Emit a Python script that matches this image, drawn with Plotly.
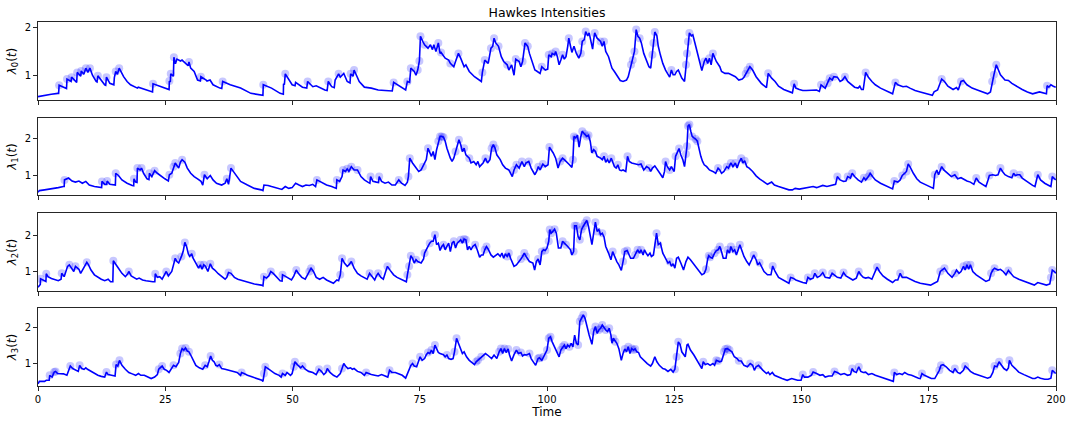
import plotly.graph_objects as go

# (time, intensity, event flag)
p0 = [(0,0.55,0),(1.3,0.58,0),(2.6,0.6,0),(3.9,0.62,0),(4.05,0.62,0),(4.15,0.79,1),(5.34,0.72,0),(5.6,0.72,0),(5.7,0.92,1),(6.35,0.87,0),(6.5,0.87,0),(6.6,0.96,1),(7.5,0.85,0),(7.6,0.85,0),(7.7,1.06,1),(8.4,0.98,0),(8.5,1.09,1),(9.0,1.02,0),(9.4,1.15,1),(9.8,1.06,0),(10.2,1.15,1),(10.7,1.0,0),(11.42,0.87,0),(11.6,0.86,0),(11.76,0.99,1),(12.5,0.88,0),(13.1,0.8,0),(13.3,0.79,0),(13.45,0.96,1),(14.12,0.83,0),(14.9,0.8,0),(15.0,0.95,0),(15.27,1.08,1),(15.6,1.02,0),(15.95,1.15,1),(16.82,0.97,0),(17.5,0.87,0),(18.18,0.8,0),(19.53,0.73,0),(19.7,0.75,0),(20.9,0.7,0),(22.23,0.66,0),(22.5,0.65,0),(22.6,0.82,1),(24.26,0.75,0),(25.6,0.7,0),(25.75,0.7,0),(25.81,0.88,1),(26.0,0.86,0),(26.08,1.03,1),(26.6,0.98,0),(26.7,1.38,1),(27.0,1.24,0),(27.3,1.34,0),(28.0,1.3,0),(28.3,1.32,0),(29.0,1.25,0),(29.5,1.2,0),(29.66,1.28,1),(30.0,1.15,0),(30.68,1.08,0),(31.35,0.9,0),(31.9,0.88,0),(32.0,0.97,1),(33.04,0.9,0),(33.2,0.88,0),(33.8,0.9,0),(34.39,0.8,0),(35.74,0.73,0),(36.1,0.72,0),(36.28,0.87,1),(37.77,0.8,0),(39.8,0.73,0),(41.82,0.62,0),(44.19,0.58,0),(44.26,0.8,1),(45.88,0.73,0),(47.57,0.62,0),(48.2,0.6,0),(48.24,0.82,0),(48.4,0.8,0),(48.58,1.03,1),(49.93,0.8,0),(50.5,0.78,0),(50.61,0.85,0),(51.96,0.75,0),(52.8,0.73,0),(52.97,0.87,1),(53.99,0.76,0),(54.66,0.78,0),(56.35,0.69,0),(56.8,0.68,0),(57.03,0.87,1),(57.7,0.76,0),(58.2,0.74,0),(58.38,0.9,0),(59.06,1.03,1),(59.39,0.96,0),(60.07,1.04,0),(60.75,0.87,0),(61.3,0.84,0),(61.42,1.03,1),(61.9,0.98,0),(62.1,1.11,1),(63.11,0.87,0),(64.12,0.75,0),(65.48,0.73,0),(66.83,0.69,0),(68.18,0.68,0),(69.19,0.68,0),(69.6,0.67,0),(69.87,0.85,1),(71.56,0.73,0),(72.23,0.69,0),(72.57,0.87,1),(73.0,0.85,0),(73.25,1.15,1),(73.92,1.08,0),(74.26,1.0,0),(74.6,1.11,1),(74.93,1.3,1),(75.14,1.82,1),(75.61,1.71,0),(75.95,1.64,1),(76.62,1.57,0),(77.1,1.64,0),(77.5,1.54,0),(77.77,1.64,0),(78.18,1.5,0),(78.65,1.68,1),(78.99,1.46,0),(79.19,1.48,1),(80.0,1.36,0),(80.68,1.32,0),(81.01,1.25,1),(81.69,1.18,0),(82.03,1.29,0),(82.6,1.46,1),(83.04,1.36,0),(83.72,1.18,0),(84.06,1.22,0),(84.73,1.08,0),(85.75,0.97,0),(86.76,0.9,0),(87.1,0.87,0),(87.3,1.06,1),(87.77,1.32,1),(88.45,1.25,0),(88.99,1.57,1),(89.33,1.61,0),(89.6,1.78,1),(89.93,1.68,0),(90.47,1.61,1),(91.02,1.39,0),(91.49,1.29,0),(92.17,1.22,1),(92.5,1.11,0),(93.05,1.22,0),(93.52,1.0,0),(93.86,1.34,1),(94.53,1.29,0),(94.87,1.18,0),(95.2,1.29,1),(95.68,1.68,1),(96.22,1.61,1),(96.55,1.46,0),(97.23,1.25,0),(97.62,1.11,0),(97.96,1.09,0),(98.64,1.04,0),(98.98,1.18,1),(99.66,1.11,0),(100.14,1.13,0),(100.34,1.43,1),(100.81,1.39,0),(101.02,1.46,1),(101.49,1.43,0),(101.7,1.5,1),(102.04,1.39,0),(102.38,1.22,0),(102.72,1.32,0),(103.06,1.43,1),(103.4,1.34,0),(103.73,1.39,0),(104.07,1.61,0),(104.28,1.78,1),(104.62,1.61,0),(104.89,1.48,0),(105.3,1.61,0),(105.77,1.46,0),(106.25,1.36,0),(106.65,1.46,1),(106.93,1.71,1),(107.33,1.75,0),(107.6,1.92,1),(108.01,1.83,0),(108.28,1.89,0),(108.69,1.71,0),(108.96,1.55,0),(109.17,1.75,0),(109.37,1.89,1),(109.85,1.78,0),(110.19,1.75,0),(110.52,1.71,1),(110.86,1.61,0),(111.2,1.71,1),(111.54,1.5,0),(112.09,1.39,0),(112.56,1.22,0),(112.77,1.15,0),(113.24,1.08,0),(113.92,0.97,0),(114.39,0.89,0),(114.94,0.87,0),(115.62,0.9,0),(115.96,0.97,0),(116.3,1.11,0),(116.5,1.22,1),(116.84,1.32,1),(117.18,1.5,1),(117.52,1.96,1),(117.86,1.82,0),(118.2,1.78,1),(118.54,1.68,0),(119.01,1.46,0),(119.56,1.29,0),(120.03,1.18,0),(120.37,1.15,0),(120.5,1.3,0),(120.71,1.43,1),(120.91,1.68,1),(121.18,1.91,1),(121.59,1.83,0),(121.86,1.61,0),(122.27,1.43,0),(122.75,1.25,0),(123.29,1.11,0),(123.77,1.01,0),(124.1,0.96,0),(124.44,1.11,1),(124.78,1.01,0),(125.12,1.01,0),(125.46,1.08,0),(125.8,1.11,0),(126.48,0.94,0),(127.02,0.87,0),(127.3,1.22,1),(127.5,1.46,1),(127.7,1.71,1),(127.97,1.89,1),(128.38,1.83,0),(128.65,1.85,0),(129.06,1.68,0),(129.54,1.46,0),(130.01,1.25,0),(130.42,1.1,0),(130.89,1.29,1),(131.23,1.36,0),(131.57,1.25,0),(131.91,1.36,1),(132.25,1.22,0),(132.59,1.46,1),(133.27,1.29,0),(133.95,1.18,0),(134.29,1.08,0),(134.97,1.04,0),(135.65,1.04,0),(136.33,1.01,0),(137.01,0.97,0),(137.68,0.9,0),(138.36,0.92,0),(138.7,0.96,0),(139.04,1.03,1),(139.38,1.11,1),(139.86,1.18,1),(140.4,1.11,0),(141.08,0.97,0),(142.1,0.83,0),(143.12,0.74,0),(143.46,1.04,1),(144.14,0.94,0),(144.81,0.87,0),(145.49,0.77,0),(146.51,0.7,0),(147.53,0.65,0),(148.21,0.63,0),(148.55,0.82,1),(148.89,0.73,0),(149.57,0.7,0),(150.25,0.68,0),(150.93,0.68,0),(151.6,0.68,0),(152.28,0.68,0),(152.96,0.69,0),(153.51,0.66,0),(153.84,0.8,1),(154.66,0.73,0),(155.13,0.83,1),(155.54,0.94,1),(156.02,0.9,0),(156.36,0.97,1),(157.04,0.96,0),(157.58,0.87,0),(158.05,0.9,0),(158.53,0.97,1),(159.07,0.87,0),(159.75,0.8,0),(160.43,0.75,0),(161.11,0.73,0),(161.45,0.77,0),(161.79,0.7,0),(162.13,0.7,0),(162.6,1.06,1),(163.15,0.96,0),(163.83,0.87,0),(164.5,0.8,0),(165.52,0.73,0),(166.54,0.68,0),(167.9,0.61,0),(168.44,0.85,1),(168.92,0.8,0),(169.94,0.76,0),(170.62,0.77,0),(171.3,0.73,0),(172.31,0.68,0),(173.33,0.65,0),(174.69,0.61,0),(175.71,0.58,0),(176.05,0.65,0),(176.73,0.69,0),(177.54,0.92,1),(178.09,0.87,0),(178.76,0.77,0),(179.78,0.7,0),(180.46,0.74,0),(180.8,0.69,0),(181.34,0.87,1),(181.82,0.89,0),(182.5,0.8,0),(183.52,0.73,0),(184.54,0.69,0),(185.55,0.65,0),(186.57,0.61,0),(187.12,0.65,0),(187.46,0.87,1),(187.8,1.01,1),(188.27,1.22,1),(188.61,1.14,0),(189.08,1.01,0),(189.97,0.9,0),(190.65,0.89,0),(191.33,0.83,0),(192.34,0.76,0),(193.36,0.7,0),(194.38,0.65,0),(195.4,0.61,0),(196.08,0.63,0),(196.76,0.65,0),(198.12,0.61,0),(198.25,0.78,1),(198.59,0.75,0),(199.0,0.8,0),(199.47,0.77,0),(199.95,0.75,0)]

p1 = [(0,0.555,0),(0.27,0.6,0),(1.28,0.62,0),(2.64,0.645,0),(3.99,0.68,0),(5.0,0.71,0),(5.15,0.71,0),(5.2,0.89,1),(6.01,0.94,0),(6.69,0.86,0),(7.36,0.83,0),(8.04,0.86,0),(8.72,0.8,0),(9.39,0.85,0),(10.07,0.75,0),(11.08,0.71,0),(12.1,0.68,0),(12.5,0.68,0),(12.57,0.85,1),(13.11,0.77,0),(13.5,0.77,0),(13.58,0.86,1),(14.12,0.77,0),(14.8,0.75,0),(15.2,0.75,0),(15.27,1.07,1),(15.81,1.01,0),(16.49,0.89,0),(17.5,0.8,0),(18.51,0.74,0),(18.8,0.73,0),(18.85,0.92,1),(19.19,0.83,0),(19.45,0.82,0),(19.53,1.21,1),(20.07,1.16,0),(20.34,1.21,1),(20.74,1.07,0),(21.42,0.92,0),(21.8,0.9,0),(21.89,1.07,1),(22.37,0.98,0),(22.91,1.14,1),(23.45,1.07,0),(24.26,0.98,0),(24.93,0.92,0),(25.61,0.86,0),(25.81,1.03,1),(26.28,1.07,0),(26.62,1.25,1),(26.96,1.35,1),(27.3,1.28,0),(27.64,1.21,0),(27.97,1.37,0),(28.31,1.44,1),(28.85,1.37,0),(29.33,1.21,0),(30.0,1.07,0),(30.68,0.98,0),(31.35,0.92,0),(32.03,0.85,0),(32.37,0.75,0),(32.7,1.03,1),(33.24,0.92,0),(33.85,1.01,0),(34.39,0.89,0),(35.07,0.8,0),(36.08,0.75,0),(36.76,0.8,0),(37.1,0.92,1),(37.43,0.77,0),(37.91,1.21,1),(38.79,1.03,0),(39.8,0.85,0),(41.15,0.75,0),(42.5,0.66,0),(43.85,0.62,0),(44.19,0.6,0),(44.39,0.75,0),(45.2,0.74,0),(45.88,0.71,0),(46.55,0.68,0),(47.23,0.645,0),(47.91,0.63,0),(48.58,0.71,0),(49.26,0.66,0),(49.93,0.68,0),(50.61,0.8,0),(51.29,0.75,0),(51.96,0.71,0),(52.64,0.75,0),(53.31,0.74,0),(53.99,0.77,0),(54.53,0.71,0),(54.8,0.89,1),(55.34,0.85,0),(56.02,0.8,0),(56.69,0.75,0),(57.7,0.71,0),(58.38,0.66,0),(58.6,0.66,0),(58.72,0.89,1),(59.26,0.85,0),(59.73,0.98,0),(59.93,1.16,1),(60.41,1.12,0),(60.75,1.19,1),(61.08,1.12,0),(61.56,1.25,1),(62.1,1.16,0),(62.77,1.16,1),(63.45,0.98,0),(64.12,0.89,0),(64.8,0.83,0),(65.2,0.8,0),(65.34,0.98,1),(65.81,0.85,0),(66.49,0.83,0),(66.9,0.82,0),(67.03,0.98,1),(67.5,0.85,0),(68.18,0.8,0),(68.85,0.83,0),(69.53,0.75,0),(70.2,0.75,0),(70.88,0.89,1),(71.42,0.8,0),(72.1,0.74,0),(72.57,0.83,0),(72.77,0.98,1),(73.04,1.48,1),(73.58,1.35,0),(74.26,1.21,0),(74.8,1.12,0),(75.27,1.16,0),(75.61,1.25,1),(75.95,1.35,0),(76.29,1.44,0),(76.62,1.75,1),(76.96,1.66,0),(77.3,1.53,0),(77.64,1.66,0),(77.98,1.44,0),(78.31,1.71,0),(78.65,1.94,1),(78.99,2.07,1),(79.32,2.07,1),(79.66,2.05,1),(80.0,1.94,0),(80.34,1.75,0),(81.01,1.48,0),(81.35,1.39,0),(81.69,1.48,0),(82.03,1.66,1),(82.37,1.8,0),(82.7,1.98,1),(83.04,1.85,0),(83.38,1.66,0),(83.72,1.75,1),(84.06,1.57,0),(84.73,1.48,1),(85.07,1.35,0),(85.61,1.39,0),(86.08,1.3,0),(86.42,1.39,0),(86.76,1.25,0),(87.44,1.35,0),(87.91,1.48,1),(88.31,1.35,0),(88.79,1.44,0),(89.12,1.75,1),(89.46,1.85,1),(89.8,1.75,1),(90.14,1.57,0),(90.81,1.44,0),(91.29,1.3,0),(91.83,1.21,0),(92.5,1.16,0),(93.18,0.98,0),(93.52,1.16,1),(93.99,1.3,1),(94.53,1.21,0),(95.07,1.39,1),(95.54,1.25,0),(95.88,1.35,0),(96.42,1.39,1),(96.89,1.21,0),(97.62,1.03,0),(97.96,1.12,0),(98.3,1.25,1),(98.64,1.16,0),(99.19,1.32,1),(99.66,1.25,0),(100.2,1.3,0),(100.48,1.78,1),(100.81,1.71,0),(101.22,1.62,0),(101.7,1.48,0),(102.17,1.21,0),(102.58,1.39,1),(103.06,1.48,1),(103.4,1.44,0),(103.94,1.35,0),(104.41,1.3,0),(104.89,1.23,0),(105.09,1.44,1),(105.3,2.07,1),(105.64,2.03,1),(105.98,2.1,0),(106.31,1.78,0),(106.65,2.07,0),(106.93,2.21,1),(107.33,2.14,1),(107.81,2.07,1),(108.15,2.1,1),(108.49,1.94,0),(108.83,1.62,0),(109.17,1.71,1),(109.51,1.66,0),(109.85,1.53,0),(110.52,1.48,0),(110.86,1.44,0),(111.2,1.53,1),(111.54,1.37,0),(111.88,1.44,0),(112.22,1.35,0),(112.63,1.48,1),(112.9,1.39,0),(113.24,1.25,0),(113.58,1.21,0),(113.92,1.3,1),(114.26,1.16,0),(114.6,1.14,0),(114.94,1.16,0),(115.48,1.12,0),(115.82,1.53,1),(116.16,1.39,0),(116.64,1.35,0),(117.31,1.32,0),(117.99,1.3,0),(118.47,1.32,1),(119.01,1.16,0),(119.56,1.25,0),(120.03,1.21,1),(120.37,1.12,0),(120.71,1.21,0),(121.18,1.27,0),(121.73,1.14,0),(122.27,1.05,0),(122.75,0.95,0),(123.09,1.12,0),(123.29,1.39,1),(123.63,1.25,0),(124.1,1.16,1),(124.44,1.25,0),(124.78,1.16,0),(124.99,1.12,0),(125.26,1.53,1),(125.6,1.66,0),(125.94,1.74,1),(126.28,1.57,0),(126.68,1.44,0),(127.02,1.25,0),(127.3,1.59,1),(127.5,1.8,1),(127.7,2.35,1),(127.97,2.39,1),(128.25,2.21,0),(128.52,2.07,1),(128.86,2.03,0),(129.2,2.0,1),(129.54,1.94,1),(129.88,1.71,0),(130.22,1.53,0),(130.56,1.39,0),(130.89,1.3,0),(131.37,1.25,0),(131.91,1.16,0),(132.59,1.12,0),(133.14,1.07,0),(133.61,1.21,1),(133.95,1.16,0),(134.29,1.07,0),(134.76,1.12,0),(135.31,1.25,1),(135.65,1.21,0),(136.12,1.35,1),(136.53,1.25,0),(137.01,1.35,1),(137.35,1.21,0),(137.68,1.35,0),(138.16,1.48,1),(138.5,1.35,0),(138.84,1.41,1),(139.25,1.25,0),(139.72,1.21,0),(140.4,1.12,0),(141.08,1.0,0),(141.76,0.92,0),(142.44,0.85,0),(143.32,0.77,0),(144.14,0.83,0),(144.68,0.75,0),(145.49,0.71,0),(146.51,0.66,0),(147.53,0.62,0),(148.21,0.62,0),(148.75,0.66,0),(149.57,0.64,0),(150.25,0.66,0),(150.93,0.68,0),(151.6,0.71,0),(152.28,0.71,0),(152.96,0.68,0),(153.64,0.71,0),(154.18,0.74,0),(155.0,0.71,0),(156.02,0.75,0),(156.7,0.77,0),(157.04,0.98,1),(157.58,0.89,0),(158.26,0.85,0),(158.73,0.86,0),(159.07,0.98,1),(159.62,0.94,0),(159.96,1.07,1),(160.43,0.98,0),(161.11,0.89,0),(161.79,0.83,0),(162.26,0.95,1),(162.6,0.89,0),(163.15,0.98,1),(163.49,1.07,1),(163.96,0.98,0),(164.5,0.89,0),(165.52,0.8,0),(166.54,0.74,0),(167.56,0.66,0),(167.9,0.645,0),(168.24,0.86,1),(168.92,0.83,0),(169.39,0.89,0),(169.8,1.01,1),(170.28,1.07,0),(170.62,1.12,1),(170.96,1.32,1),(171.3,1.25,0),(171.97,1.07,0),(172.65,0.92,0),(173.33,0.83,0),(174.35,0.77,0),(175.37,0.71,0),(175.91,0.66,0),(176.18,1.03,1),(176.59,1.16,0),(176.93,1.03,0),(177.54,1.25,1),(177.95,1.16,0),(178.76,1.07,0),(179.44,0.98,0),(180.12,1.03,1),(180.67,0.92,0),(181.34,0.95,0),(182.02,0.89,0),(182.5,0.86,0),(183.18,0.83,0),(183.86,0.77,0),(184.33,0.94,1),(184.88,0.83,0),(185.55,0.77,0),(186.23,0.71,0),(186.57,0.85,0),(186.91,1.01,1),(187.59,1.03,0),(188.13,1.01,0),(188.61,1.03,0),(189.08,1.21,1),(189.49,1.12,0),(189.97,1.03,0),(190.65,0.98,0),(191.33,0.95,0),(191.67,1.07,1),(192.0,1.01,0),(192.48,1.03,0),(192.89,1.03,1),(193.36,0.94,0),(194.38,0.83,0),(195.4,0.74,0),(195.87,0.71,0),(196.08,0.83,0),(196.42,1.03,1),(196.96,0.89,0),(197.78,0.8,0),(198.59,0.74,0),(199.0,0.71,0),(199.27,0.98,1),(199.68,0.94,0),(199.95,0.89,0)]

p2 = [(0,0.58,0),(0.27,0.65,0),(0.45,0.66,0),(0.5,0.81,1),(0.95,0.78,0),(1.28,0.75,0),(1.55,0.74,0),(1.62,0.95,1),(1.96,0.87,0),(2.64,0.82,0),(3.31,0.8,0),(3.99,0.76,0),(4.53,0.8,0),(4.66,0.96,1),(5.14,0.87,0),(5.47,1.01,0),(5.81,1.15,0),(6.15,1.19,1),(6.55,1.1,0),(7.03,1.01,0),(7.36,1.15,1),(7.7,1.1,0),(8.04,1.07,0),(8.38,0.96,0),(8.85,1.07,0),(9.26,1.19,0),(9.59,1.26,1),(9.93,1.19,0),(10.41,1.05,0),(11.08,0.92,0),(11.76,0.85,0),(12.43,0.8,0),(13.11,0.76,0),(13.78,0.8,0),(14.26,0.73,0),(14.7,0.73,0),(14.8,1.3,1),(15.27,1.22,0),(15.81,1.1,0),(16.49,0.96,0),(17.16,0.87,0),(17.64,0.95,0),(17.84,1.01,1),(18.31,0.89,0),(18.85,0.85,0),(19.39,0.8,0),(19.87,0.83,0),(20.54,0.78,0),(21.22,0.76,0),(21.89,0.74,0),(22.57,0.73,0),(22.95,0.73,0),(23.04,0.95,1),(23.45,0.85,0),(23.92,0.87,0),(24.39,0.8,0),(24.93,0.95,0),(25.2,1.01,1),(25.61,0.89,0),(26.28,1.01,0),(26.62,1.19,0),(26.96,1.37,1),(27.3,1.28,0),(27.64,1.24,0),(28.18,1.42,1),(28.51,1.55,0),(28.85,1.8,1),(29.19,1.69,0),(29.53,1.49,0),(29.8,1.42,0),(30.2,1.49,1),(30.47,1.37,0),(31.01,1.24,0),(31.55,1.1,0),(31.89,1.19,1),(32.23,1.07,0),(32.57,1.19,1),(32.91,1.15,0),(33.38,1.01,0),(33.85,1.22,1),(34.26,1.1,0),(34.73,1.05,0),(35.41,0.95,0),(36.28,0.85,0),(36.76,0.8,0),(37.1,0.85,0),(37.43,0.98,1),(37.91,0.96,0),(38.58,0.85,0),(39.26,0.8,0),(40.14,0.76,0),(41.15,0.71,0),(42.5,0.67,0),(43.85,0.64,0),(44.19,0.62,0),(44.39,0.87,1),(44.87,0.83,0),(45.34,0.89,0),(45.74,1.01,1),(46.22,0.96,0),(46.89,0.85,0),(47.57,0.76,0),(47.95,0.75,0),(48.04,0.92,1),(48.45,0.89,0),(49.12,0.83,0),(49.8,0.78,0),(50.27,0.89,0),(50.74,1.05,1),(51.15,0.96,0),(51.83,0.85,0),(52.5,0.8,0),(52.97,0.92,0),(53.31,1.01,1),(53.65,1.1,1),(54.12,1.01,0),(54.66,0.85,0),(55.34,0.8,0),(56.02,0.85,0),(56.69,0.78,0),(57.37,0.74,0),(58.04,0.69,0),(58.72,0.78,0),(59.06,0.76,0),(59.39,0.92,1),(59.73,1.37,1),(60.2,1.24,0),(60.75,1.15,0),(61.08,1.19,0),(61.56,1.28,1),(62.1,1.1,0),(62.77,0.96,0),(63.45,0.89,0),(64.12,0.83,0),(64.66,0.8,0),(65.14,0.96,1),(65.61,0.87,0),(66.15,0.78,0),(66.49,0.89,0),(66.83,0.96,1),(67.37,0.85,0),(67.84,0.8,0),(68.31,1.01,0),(68.65,1.15,1),(69.19,1.04,0),(69.87,0.92,0),(70.54,0.85,0),(71.22,0.8,0),(71.89,0.76,0),(72.37,0.73,0),(72.57,0.92,1),(72.91,1.15,1),(73.25,1.44,1),(73.58,1.37,0),(73.92,1.24,0),(74.26,1.33,1),(74.6,1.28,0),(75.27,1.24,0),(75.75,1.35,0),(75.95,1.51,1),(76.29,1.62,0),(76.62,1.69,0),(76.96,1.78,1),(77.3,1.83,0),(77.64,1.83,0),(77.98,2.01,1),(78.31,1.74,0),(78.65,1.78,0),(78.99,1.58,0),(79.32,1.69,0),(79.66,1.74,1),(80.0,1.6,0),(80.34,1.69,0),(80.68,1.78,0),(81.01,1.55,0),(81.35,1.78,0),(81.69,1.83,1),(82.03,1.65,0),(82.37,1.78,0),(83.04,1.87,1),(83.38,1.78,0),(83.72,1.89,1),(84.06,1.87,1),(84.39,1.6,0),(84.73,1.69,0),(85.07,1.6,0),(85.41,1.69,0),(85.88,1.74,1),(86.29,1.6,0),(86.76,1.4,0),(87.1,1.46,0),(87.44,1.46,0),(87.77,1.6,1),(88.11,1.69,1),(88.45,1.62,0),(88.99,1.46,0),(89.46,1.4,0),(89.8,1.44,0),(90.34,1.49,0),(90.81,1.42,0),(91.15,1.51,0),(91.49,1.37,0),(91.83,1.49,0),(92.17,1.42,1),(92.5,1.51,1),(92.84,1.37,0),(93.18,1.28,0),(93.52,1.15,0),(93.99,1.19,0),(94.39,1.28,0),(94.87,1.35,1),(95.2,1.42,0),(95.54,1.51,1),(95.88,1.42,1),(96.55,1.28,0),(97.23,1.24,0),(97.57,1.05,0),(97.91,1.28,0),(98.25,1.35,1),(98.64,1.19,0),(98.98,1.55,1),(99.32,1.6,0),(99.66,1.58,1),(100.0,1.65,0),(100.34,1.83,1),(100.54,2.15,1),(100.81,2.05,1),(101.15,2.1,0),(101.49,2.16,1),(101.83,2.05,0),(102.24,1.65,0),(102.72,1.65,0),(103.06,1.83,1),(103.4,1.78,0),(103.73,1.74,1),(104.07,1.69,0),(104.62,1.6,0),(104.89,1.46,0),(105.23,1.55,1),(105.43,2.25,1),(105.77,2.25,1),(106.11,1.96,0),(106.45,1.87,1),(106.79,2.15,1),(107.13,2.24,1),(107.47,2.33,1),(107.81,2.4,1),(108.15,2.24,0),(108.49,1.92,0),(108.83,1.74,0),(109.17,2.05,0),(109.51,2.35,1),(109.85,2.1,1),(110.19,2.15,0),(110.52,2.01,0),(110.86,2.05,1),(111.2,1.95,0),(111.54,1.69,0),(112.09,1.51,0),(112.56,1.33,0),(112.9,1.55,1),(113.24,1.42,0),(113.72,1.28,0),(114.12,1.19,0),(114.6,1.04,0),(114.94,1.28,1),(115.28,1.55,1),(115.75,1.58,1),(116.09,1.46,0),(116.43,1.37,0),(116.98,1.37,0),(117.31,1.46,1),(117.79,1.6,1),(118.2,1.51,0),(118.47,1.6,1),(118.88,1.46,0),(119.15,1.6,0),(119.56,1.49,0),(119.83,1.44,0),(120.23,1.51,0),(120.51,1.42,0),(120.91,1.46,0),(121.18,1.69,0),(121.52,2.05,1),(121.86,1.74,1),(122.27,1.78,0),(122.75,1.51,0),(123.22,1.37,0),(123.77,1.24,0),(124.1,1.28,1),(124.44,1.15,0),(124.78,1.22,0),(125.12,1.1,0),(125.46,1.37,0),(125.8,1.4,0),(126.35,1.22,0),(126.82,1.05,0),(127.3,1.28,0),(127.7,1.4,0),(128.18,1.33,0),(128.65,1.24,0),(129.2,1.15,0),(129.88,1.01,0),(130.42,0.92,0),(130.89,0.96,0),(131.23,1.07,1),(131.57,1.35,0),(131.78,1.44,1),(132.05,1.4,1),(132.46,1.37,0),(132.93,1.51,1),(133.27,1.58,0),(133.61,1.6,1),(133.95,1.69,1),(134.29,1.55,0),(134.63,1.37,0),(135.17,1.37,0),(135.44,1.6,1),(135.85,1.51,0),(136.12,1.69,1),(136.53,1.55,0),(136.87,1.6,1),(137.21,1.46,0),(137.55,1.6,0),(137.89,1.74,1),(138.23,1.6,0),(138.7,1.42,0),(139.25,1.28,0),(139.72,1.19,0),(140.2,1.33,0),(140.6,1.46,1),(141.08,1.33,0),(141.42,1.19,0),(141.76,1.25,1),(142.1,1.15,0),(142.64,1.01,0),(143.32,0.92,0),(144.0,0.92,0),(144.34,1.16,1),(144.81,1.01,0),(145.49,0.85,0),(146.17,0.8,0),(146.85,0.74,0),(147.53,0.69,0),(147.87,0.85,1),(148.35,0.83,0),(148.89,0.78,0),(149.57,0.74,0),(150.25,0.71,0),(150.93,0.69,0),(151.26,0.85,1),(151.74,0.8,0),(152.28,0.83,0),(152.62,0.96,1),(153.1,0.85,0),(153.64,0.89,0),(154.18,0.98,1),(154.66,0.85,0),(155.13,0.83,0),(155.54,0.83,0),(156.02,0.96,1),(156.49,0.92,0),(157.04,0.85,0),(157.72,0.83,0),(158.26,0.98,1),(158.73,0.89,0),(159.41,0.83,0),(160.09,0.78,0),(160.77,0.83,0),(161.25,1.01,1),(161.65,0.92,0),(162.13,0.85,0),(162.6,0.83,0),(163.15,0.85,0),(163.83,0.8,0),(164.5,1.01,0),(164.84,1.13,1),(165.32,1.01,0),(166.0,0.89,0),(166.88,0.8,0),(167.9,0.71,0),(168.44,0.78,0),(168.92,0.78,0),(169.39,0.96,1),(169.8,0.85,0),(170.62,0.85,0),(171.3,0.8,0),(172.31,0.74,0),(173.33,0.69,0),(174.35,0.67,0),(175.37,0.64,0),(176.05,0.69,0),(176.73,0.74,0),(177.27,1.01,1),(177.75,1.05,0),(178.09,1.1,1),(178.76,0.96,0),(179.58,0.85,0),(180.12,0.96,1),(180.46,1.05,0),(180.94,0.96,0),(181.34,1.01,0),(181.82,1.15,1),(182.16,1.05,0),(182.5,1.19,1),(182.84,1.07,0),(183.18,1.19,1),(183.65,1.01,0),(184.33,0.92,0),(185.21,0.83,0),(186.23,0.74,0),(186.91,0.78,0),(187.25,0.96,1),(187.59,1.05,0),(187.93,1.1,1),(188.61,1.05,0),(189.08,1.07,0),(189.63,1.01,0),(190.17,0.92,0),(190.65,1.04,1),(191.12,0.96,0),(191.67,0.87,0),(192.68,0.8,0),(193.7,0.74,0),(194.72,0.69,0),(195.74,0.64,0),(196.42,0.71,0),(197.1,0.69,0),(198.12,0.64,0),(198.79,0.67,0),(199.0,0.85,1),(199.27,1.05,1),(199.68,1.01,0),(199.95,0.96,0)]

p3 = [(0,0.43,0),(0.27,0.5,0),(0.61,0.5,0),(1.28,0.5,0),(1.62,0.53,0),(2.2,0.53,0),(2.3,0.67,1),(2.77,0.62,0),(3.18,0.76,1),(3.45,0.78,1),(3.85,0.72,0),(4.32,0.72,0),(5.0,0.71,0),(5.68,0.67,0),(6.01,0.81,0),(6.35,0.93,1),(6.82,0.86,0),(7.36,0.81,0),(7.91,0.78,0),(8.18,0.95,1),(8.58,0.86,0),(9.05,0.84,0),(9.39,0.88,0),(9.73,0.84,0),(10.41,0.78,0),(11.08,0.72,0),(11.76,0.67,0),(12.43,0.64,0),(13.11,0.62,0),(13.45,0.76,1),(13.78,0.69,0),(14.46,0.67,0),(15.14,0.65,0),(15.34,0.97,1),(15.68,0.93,0),(16.01,1.09,1),(16.49,0.95,0),(17.16,0.84,0),(17.84,0.75,0),(18.51,0.71,0),(19.19,0.67,0),(19.73,0.72,0),(20.2,0.67,0),(20.88,0.67,0),(21.55,0.62,0),(22.23,0.58,0),(22.91,0.62,0),(23.45,0.69,0),(23.72,0.84,1),(24.12,0.88,0),(24.39,0.93,1),(24.8,0.84,0),(25.27,0.81,0),(25.74,0.75,0),(26.28,0.88,0),(26.62,0.95,1),(27.1,0.91,0),(27.64,1.03,0),(27.97,1.28,1),(28.31,1.42,1),(28.65,1.38,0),(28.99,1.44,1),(29.33,1.35,0),(29.66,1.33,1),(30.0,1.24,0),(30.47,1.09,0),(31.01,0.95,0),(31.69,0.88,0),(32.37,0.84,0),(32.84,0.95,1),(33.24,0.91,0),(33.58,1.05,0),(33.92,1.21,1),(34.26,1.09,0),(34.6,1.05,0),(34.93,0.95,0),(35.27,0.93,0),(35.61,0.97,1),(36.08,0.86,0),(36.76,0.84,0),(37.77,0.81,0),(38.45,0.78,0),(39.12,0.75,0),(39.8,0.67,0),(40.0,0.75,1),(40.47,0.72,0),(41.15,0.67,0),(42.16,0.62,0),(43.18,0.58,0),(43.99,0.53,0),(44.19,0.5,0),(44.39,0.72,1),(44.66,0.91,1),(45.2,0.86,0),(45.88,0.78,0),(46.55,0.72,0),(47.37,0.67,0),(47.77,0.62,0),(48.04,0.72,1),(48.58,0.67,0),(48.92,0.75,0),(49.6,0.67,0),(49.93,0.72,0),(50.27,0.91,1),(50.47,1.05,1),(50.95,0.97,0),(51.62,0.88,0),(51.96,0.93,1),(52.5,0.84,0),(53.18,0.78,0),(53.99,0.75,0),(54.66,0.69,0),(55.2,0.84,1),(55.68,0.78,0),(56.15,0.69,0),(56.56,0.75,0),(56.83,0.86,1),(57.37,0.75,0),(58.04,0.67,0),(58.72,0.62,0),(59.39,0.72,0),(59.73,0.86,1),(60.07,1.0,0),(60.41,0.93,0),(60.88,0.86,0),(61.42,0.88,0),(61.76,0.84,0),(62.1,0.86,0),(62.77,0.78,0),(63.45,0.75,0),(64.12,0.67,0),(64.46,0.75,1),(64.93,0.72,0),(65.48,0.69,0),(66.15,0.67,0),(66.83,0.65,0),(67.5,0.69,0),(68.18,0.65,0),(68.72,0.62,0),(69.06,0.81,1),(69.53,0.75,0),(70.2,0.75,0),(70.88,0.72,0),(71.56,0.67,0),(72.23,0.59,0),(72.57,0.72,0),(72.91,0.86,0),(73.25,0.95,0),(73.58,1.0,1),(73.92,0.93,0),(74.39,0.91,0),(74.8,1.05,0),(75.07,1.19,1),(75.47,1.09,0),(75.95,1.14,0),(76.29,1.25,0),(76.62,1.31,1),(76.96,1.28,0),(77.3,1.38,1),(77.64,1.28,0),(77.98,1.52,1),(78.31,1.42,0),(78.65,1.31,0),(78.99,1.28,0),(79.66,1.25,0),(80.0,1.19,0),(80.34,1.24,1),(80.68,1.14,0),(81.15,1.12,0),(81.55,1.14,0),(81.83,1.33,1),(82.23,1.71,1),(82.57,1.57,0),(83.04,1.38,0),(83.38,1.28,0),(83.72,1.33,0),(84.19,1.19,0),(84.73,1.09,0),(85.21,1.03,0),(85.75,0.97,0),(86.08,1.05,1),(86.42,1.09,1),(86.76,1.14,0),(87.1,1.19,1),(87.64,1.25,0),(87.91,1.28,0),(88.31,1.24,0),(88.79,1.19,0),(89.12,1.14,0),(89.6,1.24,0),(90.14,1.14,0),(90.61,1.33,1),(90.95,1.42,1),(91.29,1.28,0),(91.63,1.42,1),(91.96,1.31,0),(92.37,1.41,1),(92.64,1.24,0),(93.05,1.07,0),(93.52,1.25,0),(93.99,1.38,1),(94.39,1.28,0),(94.87,1.31,1),(95.2,1.21,0),(95.54,1.25,0),(96.01,1.24,0),(96.55,1.28,1),(96.89,1.14,0),(97.37,1.05,0),(97.77,0.95,0),(98.25,1.14,1),(98.5,1.16,1),(98.98,1.09,0),(99.32,1.19,1),(99.66,1.28,0),(100.0,1.38,1),(100.34,1.71,1),(100.68,1.75,1),(101.02,1.61,0),(101.49,1.47,0),(102.04,1.33,0),(102.38,1.19,0),(102.72,1.38,1),(103.06,1.47,1),(103.4,1.52,1),(103.73,1.42,0),(104.07,1.52,0),(104.41,1.47,1),(104.75,1.57,0),(105.09,1.47,0),(105.43,1.8,0),(105.77,1.57,0),(106.11,1.52,1),(106.45,2.18,1),(106.79,2.27,1),(107.13,2.37,1),(107.47,2.27,0),(107.81,2.04,0),(108.28,1.8,0),(108.83,1.54,0),(109.17,1.9,1),(109.51,2.04,1),(109.85,1.85,0),(110.19,1.94,1),(110.52,1.99,1),(110.86,2.08,1),(111.2,1.99,0),(111.54,1.94,1),(111.88,1.9,0),(112.22,1.99,1),(112.56,1.8,0),(112.77,1.57,0),(113.04,1.71,1),(113.44,1.61,1),(113.72,1.57,0),(114.12,1.42,0),(114.6,1.09,0),(114.94,1.28,0),(115.28,1.41,1),(115.62,1.33,0),(115.96,1.47,1),(116.3,1.28,0),(116.64,1.42,1),(116.98,1.38,1),(117.31,1.41,1),(117.65,1.33,0),(117.99,1.31,0),(118.33,1.19,0),(119.01,1.09,0),(119.7,1.0,0),(120.37,0.93,0),(120.71,1.0,0),(121.18,1.19,0),(121.59,1.05,0),(122.07,0.95,0),(122.75,0.86,0),(123.22,0.84,0),(123.77,0.78,0),(124.31,0.84,0),(124.78,0.76,0),(125.12,0.84,1),(125.46,1.19,1),(125.8,1.61,1),(126.14,1.54,0),(126.48,1.33,0),(127.16,1.19,0),(127.5,1.52,0),(127.7,1.54,0),(128.18,1.38,0),(128.86,1.24,0),(129.54,1.09,0),(130.01,0.95,0),(130.42,0.86,0),(130.69,1.05,1),(131.1,0.97,0),(131.57,1.0,0),(132.05,0.95,0),(132.59,1.0,0),(132.93,0.95,0),(133.27,1.09,1),(133.61,1.07,1),(133.95,1.05,0),(134.29,1.07,0),(134.76,1.33,1),(135.04,1.41,1),(135.44,1.42,1),(135.85,1.38,1),(136.33,1.33,0),(136.8,1.19,0),(137.35,1.14,0),(137.68,1.08,1),(138.16,1.07,0),(138.7,0.95,0),(139.38,0.91,0),(139.93,1.0,1),(140.4,0.95,0),(140.74,0.81,0),(141.08,0.91,0),(141.55,0.95,1),(141.96,0.88,0),(142.44,0.81,0),(143.12,0.72,0),(143.46,0.76,0),(143.8,0.69,0),(144.27,0.75,0),(144.68,0.67,0),(145.36,0.62,0),(146.17,0.58,0),(147.19,0.53,0),(147.67,0.56,0),(148.07,0.58,0),(148.55,0.56,0),(149.23,0.53,0),(149.91,0.53,0),(150.25,0.69,1),(150.59,0.62,0),(151.26,0.62,0),(151.94,0.67,0),(152.28,0.76,1),(152.96,0.72,0),(153.64,0.67,0),(154.18,0.69,0),(154.66,0.62,0),(155.34,0.65,0),(156.02,0.65,0),(156.49,0.78,1),(157.04,0.75,0),(157.72,0.69,0),(158.39,0.72,0),(159.07,0.67,0),(159.62,0.69,0),(159.96,0.86,1),(160.3,0.78,0),(160.77,0.75,0),(161.25,0.91,1),(161.65,0.78,0),(162.13,0.75,0),(162.6,0.76,0),(163.15,0.69,0),(163.83,0.72,0),(164.5,0.67,0),(165.52,0.62,0),(166.54,0.58,0),(167.56,0.53,0),(168.04,0.5,0),(168.24,0.75,1),(168.71,0.69,0),(169.26,0.72,0),(169.8,0.69,0),(170.28,0.75,0),(170.96,0.69,0),(171.63,0.67,0),(172.31,0.62,0),(172.99,0.59,0),(173.33,0.58,0),(173.67,0.72,1),(174.15,0.67,0),(174.83,0.62,0),(175.5,0.58,0),(176.18,0.58,0),(176.59,0.69,0),(177.07,0.81,1),(177.41,0.95,1),(177.82,0.97,0),(178.42,0.91,0),(179.1,0.81,0),(179.78,0.75,0),(180.12,0.86,1),(180.67,0.75,0),(181.14,0.72,0),(181.82,0.81,0),(182.16,0.93,1),(182.7,0.86,0),(183.18,0.78,0),(183.86,0.72,0),(184.54,0.69,0),(185.21,0.65,0),(185.89,0.62,0),(186.57,0.59,0),(187.12,0.62,0),(187.59,0.75,0),(187.93,0.93,1),(188.41,0.91,0),(188.81,1.05,1),(189.29,0.95,0),(189.76,0.86,0),(190.31,0.81,0),(190.65,0.88,0),(190.85,1.09,1),(191.33,0.95,0),(192.0,0.86,0),(192.68,0.76,0),(193.7,0.69,0),(194.72,0.62,0),(195.4,0.58,0),(195.87,0.58,0),(196.42,0.62,0),(196.96,0.59,0),(197.78,0.56,0),(198.46,0.56,0),(199.0,0.59,0),(199.27,0.81,1),(199.68,0.76,0),(199.95,0.72,0)]

panels = [p0, p1, p2, p3]
y_labels = ["<i>λ</i><sub>0</sub>(<i>t</i>)", "<i>λ</i><sub>1</sub>(<i>t</i>)",
            "<i>λ</i><sub>2</sub>(<i>t</i>)", "<i>λ</i><sub>3</sub>(<i>t</i>)"]
y_ranges = [[0.48, 2.12], [0.48, 2.57], [0.48, 2.6], [0.37, 2.56]]
x_ticks = [0, 25, 50, 75, 100, 125, 150, 175, 200]
y_ticks = [1, 2]
title_text = "Hawkes Intensities"
x_title = "Time"

domains = [[0.7857, 1.0], [0.5247, 0.7363], [0.261, 0.4753], [0.0, 0.2143]]

fig = go.Figure()
for i, pts in enumerate(panels):
    xa = "x" if i == 0 else f"x{i+1}"
    ya = "y" if i == 0 else f"y{i+1}"
    t = [p[0] for p in pts]
    v = [p[1] for p in pts]
    et = [p[0] for p in pts if p[2]]
    ev = [p[1] for p in pts if p[2]]
    fig.add_trace(go.Scatter(x=t, y=v, mode="lines", xaxis=xa, yaxis=ya,
                             line=dict(color="#0000ff", width=1.6), showlegend=False,
                             hoverinfo="skip"))
    fig.add_trace(go.Scatter(x=et, y=ev, mode="markers", xaxis=xa, yaxis=ya,
                             marker=dict(color="rgba(0,0,255,0.22)", size=8, line=dict(width=0)),
                             showlegend=False, hoverinfo="skip"))

axis_common = dict(showline=True, mirror=True, linecolor="#262626", linewidth=1,
                   ticks="outside", ticklen=4, tickwidth=1, tickcolor="#262626",
                   showgrid=False, zeroline=False, automargin=False)
layout = dict(
    width=1072, height=424,
    margin=dict(l=38, r=16, t=22, b=38, autoexpand=False),
    paper_bgcolor="white", plot_bgcolor="white",
    font=dict(family="DejaVu Sans", size=10, color="#000000"),
    title=dict(text=title_text, x=0.5, xref="paper", xanchor="center",
               y=1 - 13 / 424, yref="container", yanchor="middle",
               font=dict(size=12.5), automargin=False),
    hovermode=False,
)
for i in range(4):
    kx = "xaxis" if i == 0 else f"xaxis{i+1}"
    ky = "yaxis" if i == 0 else f"yaxis{i+1}"
    ya = "y" if i == 0 else f"y{i+1}"
    xa = "x" if i == 0 else f"x{i+1}"
    xax = dict(axis_common, range=[0, 200], tickvals=x_ticks, anchor=ya,
               showticklabels=(i == 3), domain=[0, 1])
    if i == 3:
        xax["title"] = dict(text=x_title, standoff=2)
    layout[kx] = xax
    layout[ky] = dict(axis_common, range=y_ranges[i], tickvals=y_ticks, anchor=xa,
                      domain=domains[i], title=dict(text=y_labels[i], standoff=5))
fig.update_layout(**layout)
fig.write_html("out.html", config={"displayModeBar": False, "staticPlot": True},
               post_script="document.body.style.margin='0';")
